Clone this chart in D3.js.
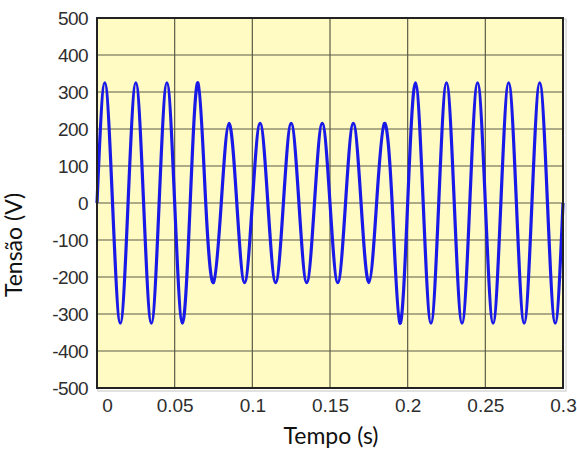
<!DOCTYPE html>
<html>
<head>
<meta charset="utf-8">
<script src="https://cdn.jsdelivr.net/npm/d3@7"></script>
<style>
  body { margin: 0; background: #fff; }
  .tick text { font-family: "Liberation Sans", Arial, sans-serif; fill: #2e2e2e; }
  .axis-title { font-family: Lato, "Open Sans", sans-serif; fill: #111; }
</style>
</head>
<body>
<div class="myChart"></div>
<script>
// tensao (V) a cada quarto de ciclo (50 Hz)
const times = [0, 0.005, 0.01, 0.015, 0.02, 0.025, 0.03, 0.035, 0.04, 0.045,
    0.05, 0.055, 0.06, 0.065, 0.07, 0.075, 0.08, 0.085, 0.09, 0.095,
    0.1, 0.105, 0.11, 0.115, 0.12, 0.125, 0.13, 0.135, 0.14, 0.145,
    0.15, 0.155, 0.16, 0.165, 0.17, 0.175, 0.18, 0.185, 0.19, 0.195,
    0.2, 0.205, 0.21, 0.215, 0.22, 0.225, 0.23, 0.235, 0.24, 0.245,
    0.25, 0.255, 0.26, 0.265, 0.27, 0.275, 0.28, 0.285, 0.29, 0.295, 0.3];
const volts = [0, 325, 0, -325, 0, 325, 0, -325, 0, 325,
    0, -325, 0, 325, 0, -215, 0, 215, 0, -215,
    0, 215, 0, -215, 0, 215, 0, -215, 0, 215,
    0, -215, 0, 215, 0, -215, 0, 215, 0, -325,
    0, 325, 0, -325, 0, 325, 0, -325, 0, 325,
    0, -325, 0, 325, 0, -325, 0, 325, 0, -325, 0];
const xTicks = [0, 0.05, 0.1, 0.15, 0.2, 0.25, 0.3];
const yTicks = [-500, -400, -300, -200, -100, 0, 100, 200, 300, 400, 500];

const W = 577, H = 452;
const margin = {top: 18, right: 14, bottom: 64, left: 97};
const width = W - margin.left - margin.right;
const height = H - margin.top - margin.bottom;

var svg = d3.select('.myChart').append('svg').attr('width', W).attr('height', H);

var x = d3.scaleLinear().domain([0, 0.3]).range([0, width]),
    y = d3.scaleLinear().domain([-500, 500]).range([height, 0]);

var g = svg.append('g')
    .attr('transform', 'translate(' + margin.left + ',' + margin.top + ')');

// faint shadow frame
g.append('rect')
    .attr('x', 1).attr('y', 1)
    .attr('width', width + 2).attr('height', height + 2)
    .attr('fill', 'none').attr('stroke', '#d8d8d8').attr('stroke-width', 1.5);

g.append('rect')
    .attr('width', width).attr('height', height)
    .attr('fill', '#fffbc2');

// grid
g.append('g').selectAll('line.gx')
    .data(xTicks.slice(1, -1))
    .enter().append('line')
    .attr('x1', d => x(d)).attr('x2', d => x(d))
    .attr('y1', 0).attr('y2', height)
    .attr('stroke', '#5c5c48').attr('stroke-width', 1.2);

g.append('g').selectAll('line.gy')
    .data(yTicks.slice(1, -1))
    .enter().append('line')
    .attr('x1', 0).attr('x2', width)
    .attr('y1', d => y(d)).attr('y2', d => y(d))
    .attr('stroke', '#5c5c48').attr('stroke-width', 1.2);

// axes
var xAxis = g.append('g')
    .attr('transform', 'translate(0,' + height + ')')
    .call(d3.axisBottom(x).tickValues(xTicks).tickSize(0).tickPadding(11)
        .tickFormat(d => String(+d.toFixed(2))));
xAxis.select('.domain').remove();
xAxis.selectAll('text').attr('font-size', 19).attr('dy', '0.71em')
    .attr('dx', d => d === 0 ? 10 : 0);

var yAxis = g.append('g')
    .call(d3.axisLeft(y).tickValues(yTicks).tickSize(0).tickPadding(9)
        .tickFormat(d => String(d)));
yAxis.select('.domain').remove();
yAxis.selectAll('text').attr('font-size', 19).attr('letter-spacing', -0.6);

// sinal
const pts = times.map((t, i) => [t, volts[i]]);
var line = d3.line()
    .x(d => x(d[0]))
    .y(d => y(d[1]))
    .curve(d3.curveNatural);

g.append('path')
    .datum(pts)
    .attr('d', line)
    .attr('fill', 'none')
    .attr('stroke', '#1a1ae8')
    .attr('stroke-width', 3.2)
    .attr('stroke-linejoin', 'round');

// frame
g.append('rect')
    .attr('width', width).attr('height', height)
    .attr('fill', 'none').attr('stroke', '#222').attr('stroke-width', 2);

svg.append('text')
    .attr('class', 'axis-title')
    .attr('x', 331).attr('y', 444)
    .attr('text-anchor', 'middle')
    .attr('font-size', 23)
    .text('Tempo (s)');

svg.append('text')
    .attr('class', 'axis-title')
    .attr('transform', 'translate(22,245) rotate(-90)')
    .attr('text-anchor', 'middle')
    .attr('font-size', 23)
    .text('Tensão (V)');
</script>
</body>
</html>
